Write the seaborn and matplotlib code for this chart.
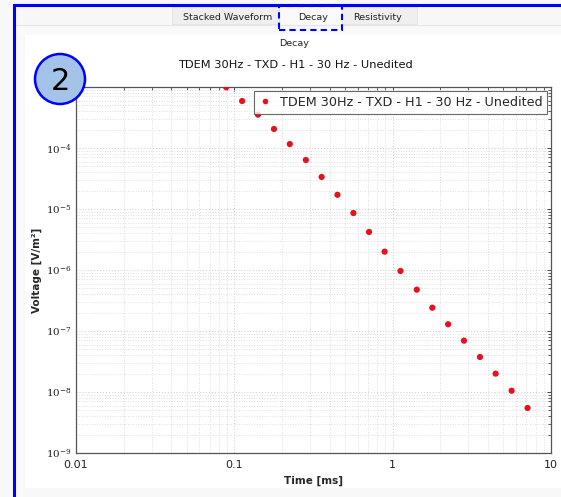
import numpy as np
import pandas as pd
import matplotlib
matplotlib.use("Agg")
import matplotlib.pyplot as plt
import seaborn as sns
from matplotlib.patches import Rectangle, Ellipse
from matplotlib.ticker import LogLocator, FixedLocator, FixedFormatter, NullFormatter

# ---- data ----
time_ms = [0.0888, 0.112, 0.141, 0.178, 0.224, 0.283, 0.356, 0.448, 0.565, 0.709,
           0.890, 1.12, 1.42, 1.78, 2.24, 2.82, 3.56, 4.47, 5.64, 7.11]
voltage = [9.9e-4, 5.89e-4, 3.52e-4, 2.05e-4, 1.16e-4, 6.36e-5, 3.35e-5, 1.71e-5,
           8.59e-6, 4.20e-6, 2.0e-6, 9.64e-7, 4.76e-7, 2.41e-7, 1.29e-7, 6.94e-8,
           3.75e-8, 2.0e-8, 1.05e-8, 5.47e-9]
series_name = "TDEM 30Hz - TXD - H1 - 30 Hz - Unedited"
tabs = ["Stacked Waveform", "Decay", "Resistivity"]
x_ticks = [0.01, 0.1, 1, 10]
x_tick_labels = ["0.01", "0.1", "1", "10"]
y_ticks = [1e-9, 1e-8, 1e-7, 1e-6, 1e-5, 1e-4]
y_tick_labels = [r"$10^{-9}$", r"$10^{-8}$", r"$10^{-7}$", r"$10^{-6}$", r"$10^{-5}$", r"$10^{-4}$"]

df = pd.DataFrame({"Time [ms]": time_ms, "Voltage": voltage, "series": series_name})

sns.set_style("white")
plt.rcParams["font.family"] = ["DejaVu Sans"]
plt.rcParams["mathtext.fontset"] = "dejavuserif"

W, H = 561, 497
fig = plt.figure(figsize=(W / 100, H / 100), dpi=100)
fig.patch.set_facecolor("#f8f8f8")

def fx(x):
    return x / W

def fy(y):
    return 1 - y / H

def rect(x0, y0, x1, y1, **kw):
    r = Rectangle((fx(x0), fy(y1)), fx(x1) - fx(x0), fy(y0) - fy(y1),
                  transform=fig.transFigure, **kw)
    fig.patches.append(r)
    return r

# window chrome
rect(14, 5, 561, 24, facecolor="#f7f7f7", edgecolor="none", zorder=-5)
rect(14, 24, 561, 35, facecolor="#f9f9f9", edgecolor="none", zorder=-5)
fig.add_artist(plt.Line2D([fx(14), fx(561)], [fy(24.5), fy(24.5)], color="#e6e6e6", lw=0.8,
                          transform=fig.transFigure, zorder=-4))
rect(25, 35, 561, 488, facecolor="white", edgecolor="none", zorder=-5)
# blue border
fig.add_artist(plt.Line2D([fx(14), fx(14), fx(561)], [fy(497), fy(5), fy(5)], color="#0000ff",
                          lw=2.2, transform=fig.transFigure, zorder=5, solid_joinstyle="miter"))
# tabs
rect(172, 7, 279, 24, facecolor="#efefef", edgecolor="#e3e3e3", lw=0.6, zorder=-3)
rect(280, 7, 341, 24, facecolor="#fafafa", edgecolor="none", zorder=-3)
rect(342, 7, 417, 24, facecolor="#efefef", edgecolor="#e3e3e3", lw=0.6, zorder=-3)
rect(279, 6, 342, 30, facecolor="none", edgecolor="#0000ff", lw=1.5, ls=(0, (3, 2)), zorder=6)
tab_x = [227.5, 313, 378]
for t, x in zip(tabs, tab_x):
    fig.text(fx(x), fy(17), t, ha="center", va="center", fontsize=6.8, color="#222222", zorder=7)

# titles
fig.text(fx(294.5), fy(44), "Decay", ha="center", va="center", fontsize=6.8, color="#222222")
fig.text(fx(295), fy(65), series_name, ha="center", va="center", fontsize=8.2, color="#111111")

# axes
ax = fig.add_axes([fx(76), fy(453), fx(551) - fx(76), fy(87) - fy(453)])
ax.set_zorder(2)
ax.set_facecolor("white")
sns.scatterplot(data=df, x="Time [ms]", y="Voltage", hue="series", palette=["#e8101c"],
                s=20, edgecolor="none", ax=ax, zorder=3)
ax.set_xscale("log")
ax.set_yscale("log")
ax.set_xlim(0.01, 10)
ax.set_ylim(1e-9, 1e-3)

ax.xaxis.set_major_locator(FixedLocator(x_ticks))
ax.xaxis.set_major_formatter(FixedFormatter(x_tick_labels))
ax.yaxis.set_major_locator(FixedLocator(y_ticks))
ax.yaxis.set_major_formatter(FixedFormatter(y_tick_labels))
ax.xaxis.set_minor_locator(LogLocator(base=10, subs=np.arange(2, 10), numticks=20))
ax.yaxis.set_minor_locator(LogLocator(base=10, subs=np.arange(2, 10), numticks=20))
ax.xaxis.set_minor_formatter(NullFormatter())
ax.yaxis.set_minor_formatter(NullFormatter())

ax.grid(True, which="major", color="#d4d4d4", ls=":", lw=0.8)
ax.grid(True, which="minor", color="#dedede", ls=":", lw=0.7)
ax.set_axisbelow(True)
ax.tick_params(which="both", direction="in", top=True, right=True, colors="#444444",
               labelcolor="#222222")
ax.tick_params(which="major", length=3, width=0.7)
ax.tick_params(which="minor", length=2, width=0.6)
ax.tick_params(axis="x", labelsize=8, pad=5)
ax.tick_params(axis="y", labelsize=7.5, pad=3)
for s in ax.spines.values():
    s.set_color("#555555")
    s.set_linewidth(0.9)

ax.set_xlabel("Time [ms]", fontsize=7.5, fontweight="bold", labelpad=4)
ax.set_ylabel("Voltage [V/m²]", fontsize=7.5, fontweight="bold", labelpad=3)

leg = ax.legend(loc="upper right", bbox_to_anchor=(1.0, 1.0), fontsize=9.2, frameon=True,
                fancybox=False, edgecolor="#444444", borderpad=0.4, handletextpad=0.7,
                markerscale=0.9, handlelength=0.9, borderaxespad=0.28)
leg.get_frame().set_linewidth(0.8)

# numbered badge
circ = Ellipse((fx(60), fy(79)), width=50 / W, height=50 / H, transform=fig.transFigure,
               facecolor="#a3c4e8", edgecolor="#0000ff", lw=1.8, zorder=10)
fig.add_artist(circ)
fig.text(fx(60), fy(81), "2", ha="center", va="center", fontsize=22, color="black", zorder=11)

fig.savefig("out.png", dpi=100, facecolor=fig.get_facecolor())
